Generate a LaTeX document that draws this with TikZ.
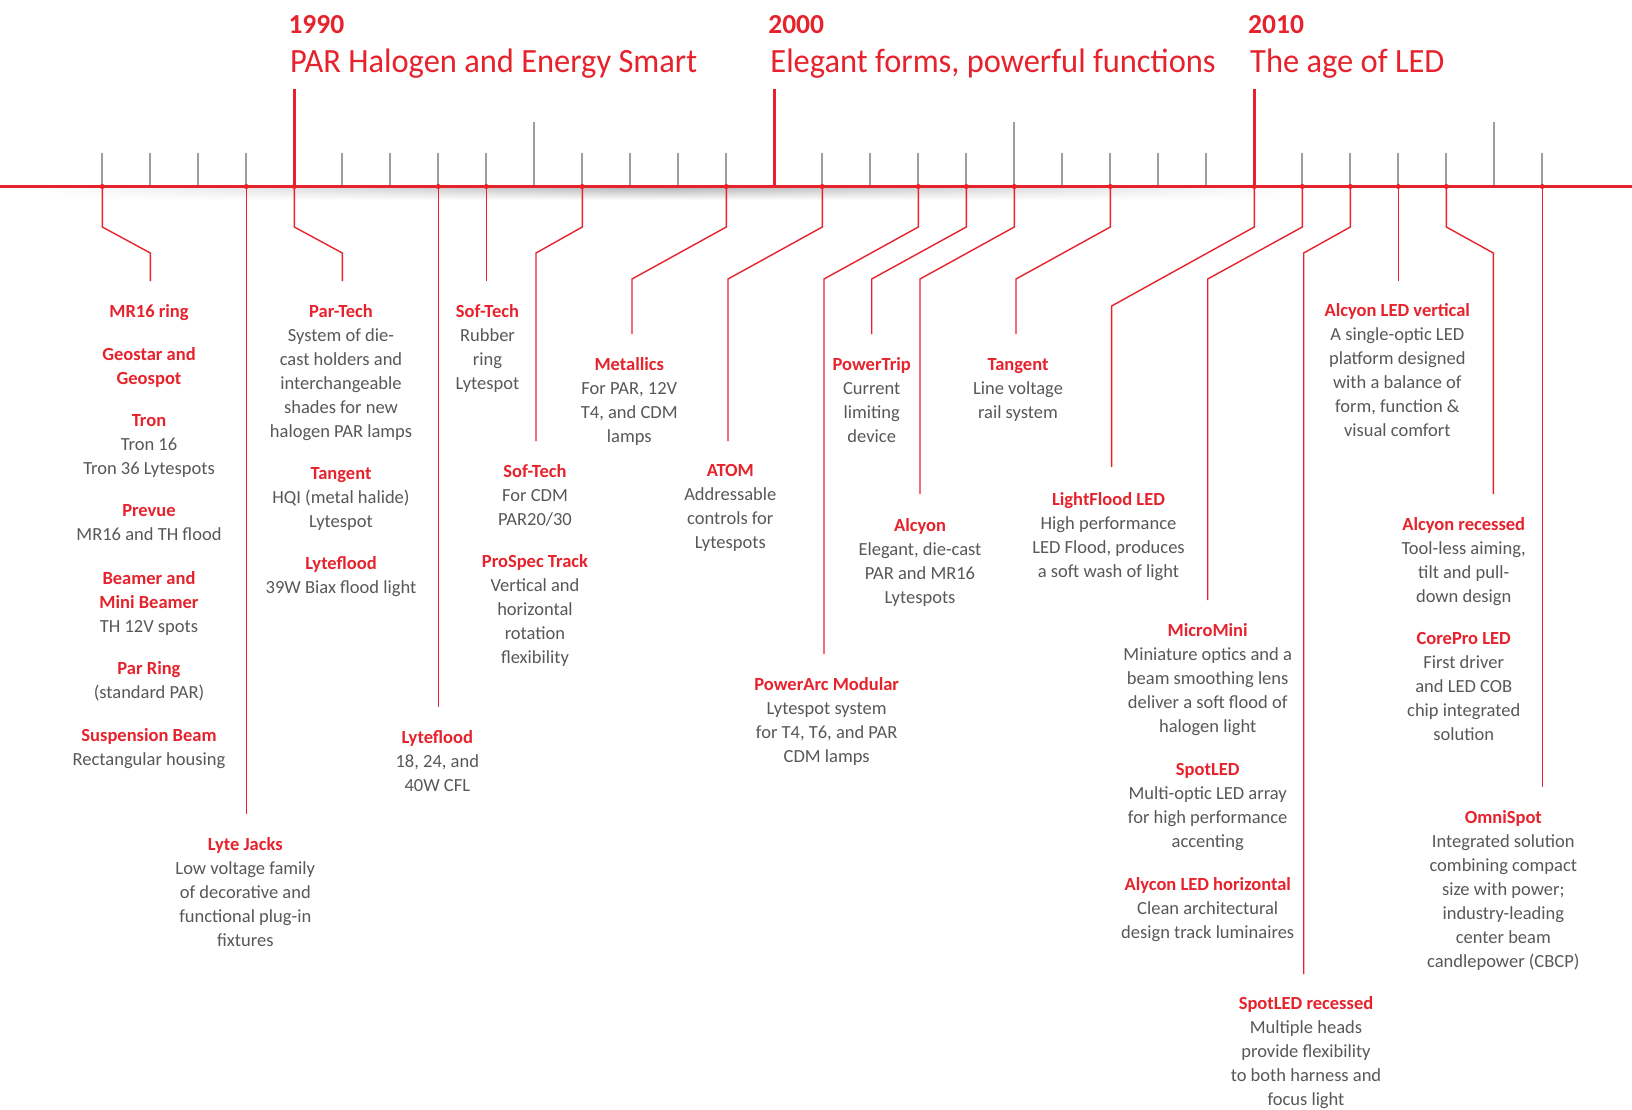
\documentclass[tikz,border=0pt]{standalone}
\usepackage{fontspec}
\setmainfont{Carlito}
\newfontfamily\erafont[FakeStretch=0.955]{Carlito}
\usetikzlibrary{fadings}
\definecolor{tred}{RGB}{230,35,45}
\definecolor{tgray}{RGB}{88,88,90}
\definecolor{ttick}{RGB}{158,158,162}
\tikzfading[name=sidefade, left color=transparent!100, right color=transparent!100, middle color=transparent!0]
\newcommand\hd[1]{{\color{tred}\bfseries #1}}
\begin{document}
\begin{tikzpicture}[x=1pt,y=-1pt,
  desc/.style={anchor=north, inner sep=0pt, align=center, text=tgray, font=\fontsize{18.5}{24}\selectfont},
  conn/.style={draw=tred, line width=1.4pt},
  dot/.style={circle, fill=tred, inner sep=0pt, minimum size=5pt},
  yr/.style={anchor=base west, inner sep=0pt, text=tred, font=\fontsize{27.5}{30}\selectfont\bfseries},
  era/.style={anchor=base west, inner sep=0pt, text=tred, font=\erafont\fontsize{34}{40}\selectfont},
  gtick/.style={draw=ttick, line width=2.2pt},
  rtick/.style={draw=tred, line width=2.5pt},
]
\useasboundingbox (0,0) rectangle (1632,1110);
\fill[white] (0,0) rectangle (1632,1110);

% shadow under the timeline
\shade[top color=black!30, bottom color=white, path fading=sidefade] (40,187) rectangle (1300,200);

% timeline
\draw[tred, line width=3.2pt] (0,186.5) -- (1632,186.5);

% gray ticks
\foreach \yy in {1986,1987,1988,1989,1991,1992,1993,1994,1996,1997,1998,1999,2001,2002,2003,2004,2006,2007,2008,2009,2011,2012,2013,2014,2016}
  \draw[gtick] ({294.3+48*(\yy-1990)},185) -- ({294.3+48*(\yy-1990)},153.3);
\foreach \yy in {1995,2005,2015}
  \draw[gtick] ({294.3+48*(\yy-1990)},185) -- ({294.3+48*(\yy-1990)},121.7);
% major red ticks
\foreach \yy in {1990,2000,2010}
  \draw[rtick] ({294.3+48*(\yy-1990)},186.5) -- ({294.3+48*(\yy-1990)},89.5);

% titles
\node[yr] (y1990) at (288.3,33.3) {1990};
\node[era] (t1990) at (290,72.7) {PAR Halogen and Energy Smart};
\node[yr] (y2000) at (768.1,33.3) {2000};
\node[era] (t2000) at (770.2,72.7) {Elegant forms, powerful functions};
\node[yr] (y2010) at (1248,33.3) {2010};
\node[era] (t2010) at (1250,72.7) {The age of LED};

% knee levels
\coordinate (kA) at (0,227);
\coordinate (kB) at (0,253);
\coordinate (kC) at (0,279);
\coordinate (kD) at (0,306);

% connector ends
\coordinate (e86) at (150.3,281);
\coordinate (e89) at (246.3,814);
\coordinate (e90) at (342.3,281);
\coordinate (e93) at (438.3,707);
\coordinate (e94) at (486.3,281);
\coordinate (e96) at (536,441);
\coordinate (e99) at (632,334);
\coordinate (e01) at (728,441);
\coordinate (e03) at (824,654);
\coordinate (e04) at (871.7,334);
\coordinate (e05) at (920,494);
\coordinate (e07) at (1016,334);
\coordinate (e10) at (1111.6,467);
\coordinate (e11) at (1207.7,600);
\coordinate (e12) at (1303.7,974);
\coordinate (e13) at (1398.3,281);
\coordinate (e14) at (1493.3,494);
\coordinate (e16) at (1542.3,787);

% dots on the timeline
\node[dot] (p86) at (102.3,186.5) {};
\node[dot] (p89) at (246.3,186.5) {};
\node[dot] (p90) at (294.3,186.5) {};
\node[dot] (p93) at (438.3,186.5) {};
\node[dot] (p94) at (486.3,186.5) {};
\node[dot] (p96) at (582.3,186.5) {};
\node[dot] (p99) at (726.3,186.5) {};
\node[dot] (p01) at (822.3,186.5) {};
\node[dot] (p03) at (918.3,186.5) {};
\node[dot] (p04) at (966.3,186.5) {};
\node[dot] (p05) at (1014.3,186.5) {};
\node[dot] (p07) at (1110.3,186.5) {};
\node[dot] (p10) at (1254.3,186.5) {};
\node[dot] (p11) at (1302.3,186.5) {};
\node[dot] (p12) at (1350.3,186.5) {};
\node[dot] (p13) at (1398.3,186.5) {};
\node[dot] (p14) at (1446.3,186.5) {};
\node[dot] (p16) at (1542.3,186.5) {};

% connectors
\draw[conn] (p86.center) -- (p86.center |- kA) -- (e86 |- kB) -- (e86);
\draw[conn] (p89.center) -- (e89);
\draw[conn] (p90.center) -- (p90.center |- kA) -- (e90 |- kB) -- (e90);
\draw[conn] (p93.center) -- (e93);
\draw[conn] (p94.center) -- (e94);
\draw[conn] (p96.center) -- (p96.center |- kA) -- (e96 |- kB) -- (e96);
\draw[conn] (p99.center) -- (p99.center |- kA) -- (e99 |- kC) -- (e99);
\draw[conn] (p01.center) -- (p01.center |- kA) -- (e01 |- kC) -- (e01);
\draw[conn] (p03.center) -- (p03.center |- kA) -- (e03 |- kC) -- (e03);
\draw[conn] (p04.center) -- (p04.center |- kA) -- (e04 |- kC) -- (e04);
\draw[conn] (p05.center) -- (p05.center |- kA) -- (e05 |- kC) -- (e05);
\draw[conn] (p07.center) -- (p07.center |- kA) -- (e07 |- kC) -- (e07);
\draw[conn] (p10.center) -- (p10.center |- kA) -- (e10 |- kD) -- (e10);
\draw[conn] (p11.center) -- (p11.center |- kA) -- (e11 |- kC) -- (e11);
\draw[conn] (p12.center) -- (p12.center |- kA) -- (e12 |- kB) -- (e12);
\draw[conn] (p13.center) -- (e13);
\draw[conn] (p14.center) -- (p14.center |- kA) -- (e14 |- kB) -- (e14);
\draw[conn] (p16.center) -- (e16);

% texts
\node[desc] (mr16) at (149,300.9) {\strut\hd{MR16 ring}};
\node[desc] (geo) at (149,343.2) {\strut\hd{Geostar and}\\\hd{Geospot}};
\node[desc] (tron) at (149,409.2) {\strut\hd{Tron}\\Tron 16\\Tron 36 Lytespots};
\node[desc] (prevue) at (149,499.9) {\strut\hd{Prevue}\\MR16 and TH flood};
\node[desc] (beamer) at (149,567.2) {\strut\hd{Beamer and}\\\hd{Mini Beamer}\\TH 12V spots};
\node[desc] (parring) at (149,657.8) {\strut\hd{Par Ring}\\(standard PAR)};
\node[desc] (susp) at (149,724.2) {\strut\hd{Suspension Beam}\\Rectangular housing};

\node[desc] (jacks) at (245.3,833.2) {\strut\hd{Lyte Jacks}\\Low voltage family\\of decorative and\\functional plug-in\\fixtures};

\node[desc] (partech) at (341,300.9) {\strut\hd{Par-Tech}\\System of die-\\cast holders and\\interchangeable\\shades for new\\halogen PAR lamps};
\node[desc] (tangent1) at (341,462.5) {\strut\hd{Tangent}\\HQI (metal halide)\\Lytespot};
\node[desc] (lyteflood1) at (341,552.5) {\strut\hd{Lyteflood}\\39W Biax flood light};

\node[desc] (lyteflood2) at (437.3,726.5) {\strut\hd{Lyteflood}\\18, 24, and\\40W CFL};

\node[desc] (softech1) at (487.5,300.9) {\strut\hd{Sof-Tech}\\Rubber\\ring\\Lytespot};

\node[desc] (softech2) at (535,460.2) {\strut\hd{Sof-Tech}\\For CDM\\PAR20/30};
\node[desc] (prospec) at (535,550.7) {\strut\hd{ProSpec Track}\\Vertical and\\horizontal\\rotation\\flexibility};

\node[desc] (metallics) at (629.3,353.2) {\strut\hd{Metallics}\\For PAR, 12V\\T4, and CDM\\lamps};
\node[desc] (atom) at (730.3,459.9) {\strut\hd{ATOM}\\Addressable\\controls for\\Lytespots};
\node[desc] (powerarc) at (826.7,673.2) {\strut\hd{PowerArc Modular}\\Lytespot system\\for T4, T6, and PAR\\CDM lamps};
\node[desc] (powertrip) at (871.7,353.2) {\strut\hd{PowerTrip}\\Current\\limiting\\device};
\node[desc] (alcyon) at (920,514.2) {\strut\hd{Alcyon}\\Elegant, die-cast\\PAR and MR16\\Lytespots};
\node[desc] (tangent2) at (1018,353.2) {\strut\hd{Tangent}\\Line voltage\\rail system};
\node[desc] (lightflood) at (1108.5,488.2) {\strut\hd{LightFlood LED}\\High performance\\LED Flood, produces\\a soft wash of light};

\node[desc] (micromini) at (1207.7,619.2) {\strut\hd{MicroMini}\\Miniature optics and a\\beam smoothing lens\\deliver a soft flood of\\halogen light};
\node[desc] (spotled) at (1207.7,758.5) {\strut\hd{SpotLED}\\Multi-optic LED array\\for high performance\\accenting};
\node[desc] (alyconh) at (1207.7,873.9) {\strut\hd{Alycon LED horizontal}\\Clean architectural\\design track luminaires};

\node[desc] (spotledrec) at (1306,992.5) {\strut\hd{SpotLED recessed}\\Multiple heads\\provide flexibility\\to both harness and\\focus light};

\node[desc] (alcyonv) at (1397.3,299.9) {\strut\hd{Alcyon LED vertical}\\A single-optic LED\\platform designed\\with a balance of\\form, function \&\\visual comfort};
\node[desc] (alcyonrec) at (1463.7,513.9) {\strut\hd{Alcyon recessed}\\Tool-less aiming,\\tilt and pull-\\down design};
\node[desc] (corepro) at (1463.7,627.5) {\strut\hd{CorePro LED}\\First driver\\and LED COB\\chip integrated\\solution};
\node[desc] (omnispot) at (1503.3,806.5) {\strut\hd{OmniSpot}\\Integrated solution\\combining compact\\size with power;\\industry-leading\\center beam\\candlepower (CBCP)};
\end{tikzpicture}
\end{document}
